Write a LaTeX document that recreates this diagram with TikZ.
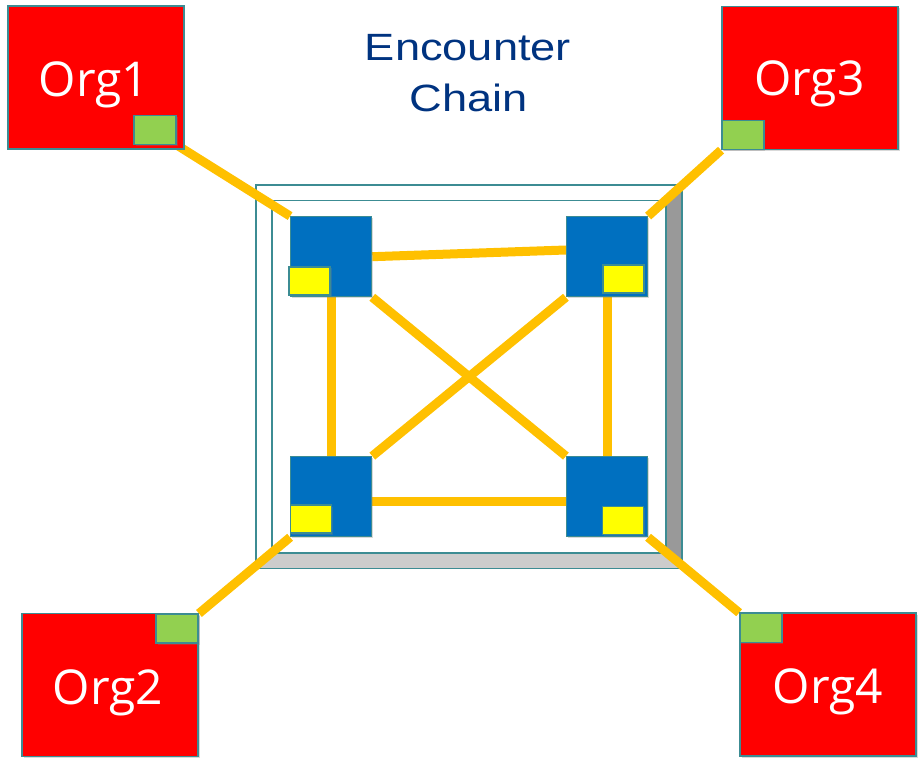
\documentclass[tikz,border=0pt]{standalone}
\usepackage{fontspec}
\setmainfont{Liberation Sans}
\newfontfamily\orgfont{Open Sans}
\usetikzlibrary{shadows}

\definecolor{edge}{RGB}{60,140,147}
\definecolor{orgred}{RGB}{255,0,0}
\definecolor{portgreen}{RGB}{146,208,80}
\definecolor{peerblue}{RGB}{0,112,192}
\definecolor{slotyellow}{RGB}{255,255,0}
\definecolor{linkorange}{RGB}{255,192,0}
\definecolor{titleblue}{RGB}{0,51,128}
\definecolor{banddark}{RGB}{153,153,153}
\definecolor{bandlight}{RGB}{204,204,204}

\pgfdeclarelayer{frame}
\pgfdeclarelayer{links}
\pgfsetlayers{frame,links,main}

\tikzset{
  boxshadow/.style={drop shadow={opacity=0.3,shadow xshift=1.5pt,shadow yshift=-1.5pt}},
  orgbox/.style={rectangle, draw=edge, line width=1.5pt, fill=orgred, inner sep=0pt,
    minimum width=176pt, minimum height=143pt, boxshadow},
  orglabel/.style={anchor=base, text=white, font=\orgfont\fontsize{48}{48}\selectfont, inner sep=0pt},
  portbox/.style={rectangle, draw=edge, line width=1.5pt, fill=portgreen, inner sep=0pt,
    minimum width=42pt, minimum height=29pt, boxshadow},
  peerbox/.style={rectangle, draw=edge, line width=1.2pt, fill=peerblue, inner sep=0pt,
    minimum width=81pt, minimum height=80pt, boxshadow},
  slotbox/.style={rectangle, draw=edge, line width=1.5pt, fill=slotyellow, inner sep=0pt,
    minimum width=41pt, minimum height=28pt, boxshadow},
  link/.style={draw=linkorange, line width=9pt},
  titletext/.style={anchor=base, text=titleblue, font=\fontsize{38}{38}\selectfont, inner sep=0pt},
  framestroke/.style={draw=edge, line width=1.6pt},
}

\begin{document}
\begin{tikzpicture}[x=1pt,y=-1pt]
\useasboundingbox (0,0) rectangle (922,762);

% title
\node[titletext] (title) at (468,61) {\scalebox{1.19}[1]{Encounter}};
\node[titletext] (title2) at (469,112) {\scalebox{1.19}[1]{Chain}};

% organisations
\node[orgbox] (org1) at (95.9,77.4) {};
\node[orgbox] (org2) at (110,685) {};
\node[orgbox] (org3) at (810,78) {};
\node[orgbox] (org4) at (828,684.7) {};
\node[orglabel] (org1t) at (94,96.7) {Org1};
\node[orglabel] (org2t) at (108,704) {Org2};
\node[orglabel] (org3t) at (809.5,95.7) {Org3};
\node[orglabel] (org4t) at (828,703.3) {Org4};

% organisation ports
\node[portbox] (p1) at (155.2,129.9) {};
\node[portbox] (p2) at (177.2,628.7) {};
\node[portbox] (p3) at (742.8,134.9) {};
\node[portbox] (p4) at (760.9,628) {};

% peers inside the chain
\node[peerbox] (tl) at (331.2,256.7) {};
\node[peerbox] (tr) at (607,256.7) {};
\node[peerbox] (bl) at (331.2,496.7) {};
\node[peerbox] (br) at (607,496.7) {};
\node[slotbox] (ytl) at (309.5,280.9) {};
\node[slotbox] (ytr) at (623.3,278.9) {};
\node[slotbox] (ybl) at (310.9,519.2) {};
\node[slotbox] (ybr) at (623,520.4) {};

% chain frame with shaded right and bottom bands
\begin{pgfonlayer}{frame}
  \fill[banddark] (681.7,185) -- (681.7,568.5) -- (666,552.7) -- (666,200.7) -- cycle;
  \fill[bandlight] (255.7,568.5) -- (681.7,568.5) -- (666,552.7) -- (271.7,552.7) -- cycle;
  \draw[framestroke] (255.7,185) rectangle (681.7,568.5);
  \draw[framestroke] (271.7,200.7) rectangle (666,552.7);
\end{pgfonlayer}

% links
\begin{pgfonlayer}{links}
  \draw[link] (p1.south east) -- (tl.north west);
  \draw[link] (p3.south west) -- (tr.north east);
  \draw[link] (p2.north east) -- (bl.south west);
  \draw[link] (p4.north west) -- (br.south east);
  \draw[link] (tl.east) -- ([yshift=6.7pt]tr.west);
  \draw[link] ([yshift=-5pt]bl.east) -- ([yshift=-5pt]br.west);
  \draw[link] (tl.south) -- (bl.north);
  \draw[link] (tr.south) -- (br.north);
  \draw[link] (tl.south east) -- (br.north west);
  \draw[link] (tr.south west) -- (bl.north east);
\end{pgfonlayer}
\end{tikzpicture}
\end{document}
